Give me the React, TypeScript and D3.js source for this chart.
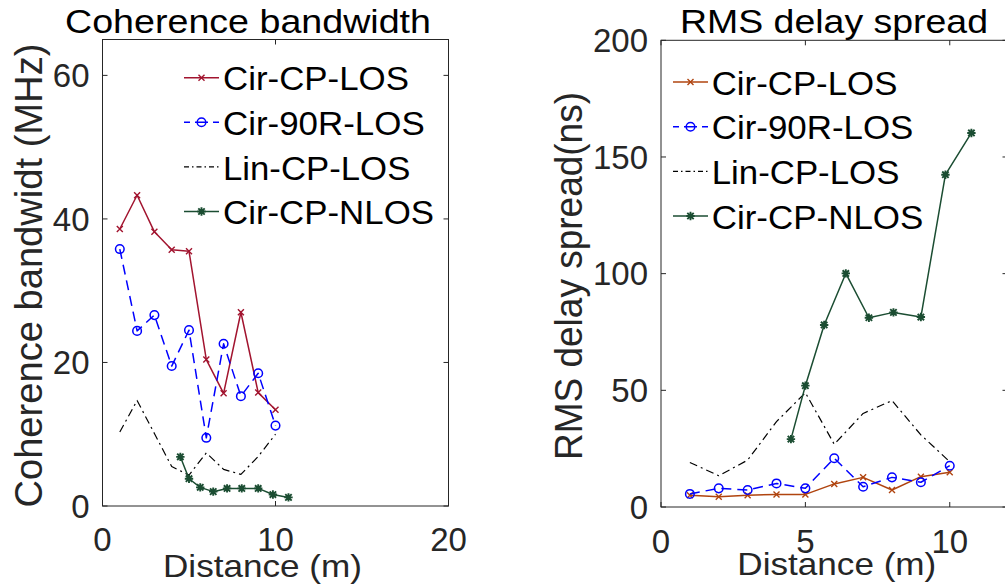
import React from 'react';
import * as d3 from 'd3';

// ---------- data ----------
const distLOS = [1, 2, 3, 4, 5, 6, 7, 8, 9, 10];
const distNLOS = [4.5, 5, 5.65, 6.4, 7.2, 8.05, 9, 9.85, 10.75];

// Coherence bandwidth (MHz)
const cbCirCPLOS = [38.6, 43.3, 38.2, 35.7, 35.5, 20.4, 15.7, 27.0, 15.8, 13.4];
const cbCir90RLOS = [35.8, 24.4, 26.6, 19.5, 24.5, 9.5, 22.6, 15.3, 18.5, 11.2];
const cbLinCPLOS = [10.3, 14.7, 10.1, 5.5, 4.3, 7.4, 5.1, 4.4, 6.9, 10.0];
const cbCirCPNLOS = [6.85, 3.8, 2.6, 2.0, 2.45, 2.45, 2.45, 1.6, 1.2];

// RMS delay spread (ns)
const dsCirCPLOS = [5.0, 4.4, 5.0, 5.4, 5.4, 9.9, 12.7, 7.3, 13.0, 14.9];
const dsCir90RLOS = [5.6, 8.0, 7.3, 10.1, 8.0, 20.9, 8.7, 12.7, 10.6, 17.7];
const dsLinCPLOS = [19.1, 13.4, 20.1, 36.6, 49.0, 26.9, 40.1, 45.6, 30.9, 19.4];
const dsCirCPNLOS = [29.1, 52.0, 78.0, 100.1, 81.1, 83.4, 81.4, 142.4, 160.3];

const seriesNames = ['Cir-CP-LOS', 'Cir-90R-LOS', 'Lin-CP-LOS', 'Cir-CP-NLOS'];

const leftXTicks = [0, 10, 20];
const leftYTicks = [0, 20, 40, 60];
const rightXTicks = [0, 5, 10];
const rightYTicks = [0, 50, 100, 150, 200];

// ---------- styling ----------
const FONT = '"Liberation Sans", Arial, Helvetica, sans-serif';
const AX = '#262626';

type Marker = 'x' | 'o' | 'star' | 'none';
interface Series {
  xs: number[];
  ys: number[];
  color: string;
  dash?: string;
  legendDash?: string;
  width: number;
  marker: Marker;
}

function MarkerShape({ type, x, y, color }: { type: Marker; x: number; y: number; color: string }) {
  if (type === 'x') {
    return (
      <path
        d={`M${x - 3},${y - 3}L${x + 3},${y + 3}M${x - 3},${y + 3}L${x + 3},${y - 3}`}
        stroke={color}
        strokeWidth={1.4}
        fill="none"
      />
    );
  }
  if (type === 'o') {
    return <circle cx={x} cy={y} r={4.3} stroke={color} strokeWidth={1.5} fill="none" />;
  }
  if (type === 'star') {
    const r = 4.2;
    const q = 3.2;
    return (
      <path
        d={`M${x - r},${y}L${x + r},${y}M${x},${y - r}L${x},${y + r}M${x - q},${y - q}L${x + q},${y + q}M${x - q},${y + q}L${x + q},${y - q}`}
        stroke={color}
        strokeWidth={1.9}
        fill="none"
      />
    );
  }
  return null;
}

interface PanelProps {
  px0: number;
  px1: number;
  py0: number;
  py1: number;
  xDomain: [number, number];
  yDomain: [number, number];
  xTicks: number[];
  yTicks: number[];
  series: Series[];
  legendLineX: [number, number];
  legendTextX: number;
  legendRows: number[];
  legendWidths: number[];
  title: string;
  titleX: number;
  titleLen: number;
  xLabelX: number;
  xLabelBaseline: number;
  yLabel: string;
  yLabelX: number;
  yLabelY: number;
  yLabelLen: number;
  xTickBaseline: number;
}

function Panel(p: PanelProps) {
  const x = d3.scaleLinear().domain(p.xDomain).range([p.px0, p.px1]);
  const y = d3.scaleLinear().domain(p.yDomain).range([p.py1, p.py0]);
  const TL = 5;
  return (
    <g>
      <rect
        x={p.px0}
        y={p.py0}
        width={p.px1 - p.px0}
        height={p.py1 - p.py0}
        fill="white"
        stroke={AX}
        strokeWidth={1}
      />
      {p.xTicks.map((t) => (
        <g key={'xt' + t}>
          <line x1={x(t)} x2={x(t)} y1={p.py1} y2={p.py1 - TL} stroke={AX} strokeWidth={1} />
          <line x1={x(t)} x2={x(t)} y1={p.py0} y2={p.py0 + TL} stroke={AX} strokeWidth={1} />
          <text
            x={x(t)}
            y={p.xTickBaseline}
            textAnchor="middle"
            fontFamily={FONT}
            fontSize={33}
            fill={AX}
          >
            {t}
          </text>
        </g>
      ))}
      {p.yTicks.map((t) => (
        <g key={'yt' + t}>
          <line x1={p.px0} x2={p.px0 + TL} y1={y(t)} y2={y(t)} stroke={AX} strokeWidth={1} />
          <line x1={p.px1} x2={p.px1 - TL} y1={y(t)} y2={y(t)} stroke={AX} strokeWidth={1} />
          <text
            x={p.px0 - 13}
            y={y(t) + 11.8}
            textAnchor="end"
            fontFamily={FONT}
            fontSize={33}
            fill={AX}
          >
            {t}
          </text>
        </g>
      ))}
      {p.series.map((s, i) => {
        const pts: [number, number][] = s.xs.map((xv, j) => [x(xv), y(s.ys[j])]);
        const line = d3.line();
        return (
          <g key={'s' + i}>
            <path
              d={line(pts) || ''}
              fill="none"
              stroke={s.color}
              strokeWidth={s.width}
              strokeDasharray={s.dash}
              strokeLinejoin="round"
            />
            {pts.map((pt, j) => (
              <MarkerShape key={j} type={s.marker} x={pt[0]} y={pt[1]} color={s.color} />
            ))}
          </g>
        );
      })}
      {p.series.map((s, i) => {
        const ly = p.legendRows[i];
        const mx = (p.legendLineX[0] + p.legendLineX[1]) / 2;
        return (
          <g key={'l' + i}>
            <line
              x1={p.legendLineX[0]}
              x2={p.legendLineX[1]}
              y1={ly}
              y2={ly}
              stroke={s.color}
              strokeWidth={s.width}
              strokeDasharray={s.legendDash}
            />
            <MarkerShape type={s.marker} x={mx} y={ly} color={s.color} />
            <text
              x={p.legendTextX}
              y={ly + 12.6}
              fontFamily={FONT}
              fontSize={33}
              fill="#000"
              textLength={p.legendWidths[i]}
              lengthAdjust="spacingAndGlyphs"
            >
              {seriesNames[i]}
            </text>
          </g>
        );
      })}
      <text
        x={p.titleX}
        y={33}
        fontFamily={FONT}
        fontSize={34}
        fill="#000"
        textLength={p.titleLen}
        lengthAdjust="spacingAndGlyphs"
      >
        {p.title}
      </text>
      <text
        x={p.xLabelX}
        y={p.xLabelBaseline}
        fontFamily={FONT}
        fontSize={32}
        fill={AX}
        textLength={199}
        lengthAdjust="spacingAndGlyphs"
      >
        Distance (m)
      </text>
      <text
        transform={`translate(${p.yLabelX},${p.yLabelY}) rotate(-90)`}
        textAnchor="middle"
        fontFamily={FONT}
        fontSize={38}
        fill={AX}
        textLength={p.yLabelLen}
        lengthAdjust="spacingAndGlyphs"
      >
        {p.yLabel}
      </text>
    </g>
  );
}

export default function App() {
  const leftSeries: Series[] = [
    { xs: distLOS, ys: cbCirCPLOS, color: '#A2142F', width: 1.5, marker: 'x' },
    { xs: distLOS, ys: cbCir90RLOS, color: '#0000FF', width: 1.5, marker: 'o', dash: '10,6', legendDash: '6,5,13,5,6' },
    { xs: distLOS, ys: cbLinCPLOS, color: '#000000', width: 1.2, marker: 'none', dash: '8,4,2,4', legendDash: '5,3,1.5,3' },
    { xs: distNLOS, ys: cbCirCPNLOS, color: '#1B4D32', width: 1.5, marker: 'star' },
  ];
  const rightSeries: Series[] = [
    { xs: distLOS, ys: dsCirCPLOS, color: '#B0440F', width: 1.5, marker: 'x' },
    { xs: distLOS, ys: dsCir90RLOS, color: '#0000FF', width: 1.5, marker: 'o', dash: '10,6', legendDash: '6,5,13,5,6' },
    { xs: distLOS, ys: dsLinCPLOS, color: '#000000', width: 1.2, marker: 'none', dash: '8,4,2,4', legendDash: '5,3,1.5,3' },
    { xs: distNLOS, ys: dsCirCPNLOS, color: '#1B4D32', width: 1.5, marker: 'star' },
  ];
  return (
    <svg
      width={1005}
      height={588}
      style={{ position: 'absolute', left: 0, top: 0, background: '#fff' }}
    >
      <rect x={0} y={0} width={1005} height={588} fill="#fff" />
      <Panel
        px0={102.5}
        px1={448.5}
        py0={39.5}
        py1={506}
        xDomain={[0, 20]}
        yDomain={[0, 65]}
        xTicks={leftXTicks}
        yTicks={leftYTicks}
        series={leftSeries}
        legendLineX={[184, 219]}
        legendTextX={223}
        legendRows={[77.7, 122.3, 166.9, 211.5]}
        legendWidths={[186, 201.7, 187.3, 211]}
        title="Coherence bandwidth"
        titleX={65}
        titleLen={366}
        xLabelX={163}
        xLabelBaseline={577}
        yLabel="Coherence bandwidt (MHz)"
        yLabelX={42}
        yLabelY={275.6}
        yLabelLen={464}
        xTickBaseline={551}
      />
      <Panel
        px0={661}
        px1={1007.5}
        py0={40.3}
        py1={507}
        xDomain={[0, 12]}
        yDomain={[0, 200]}
        xTicks={rightXTicks}
        yTicks={rightYTicks}
        series={rightSeries}
        legendLineX={[673, 708]}
        legendTextX={711.7}
        legendRows={[82, 126.8, 171.4, 216]}
        legendWidths={[185.7, 201.7, 187.7, 211.7]}
        title="RMS delay spread"
        titleX={680}
        titleLen={308}
        xLabelX={737.3}
        xLabelBaseline={575}
        yLabel="RMS delay spread(ns)"
        yLabelX={581.7}
        yLabelY={276}
        yLabelLen={368}
        xTickBaseline={553}
      />
    </svg>
  );
}
